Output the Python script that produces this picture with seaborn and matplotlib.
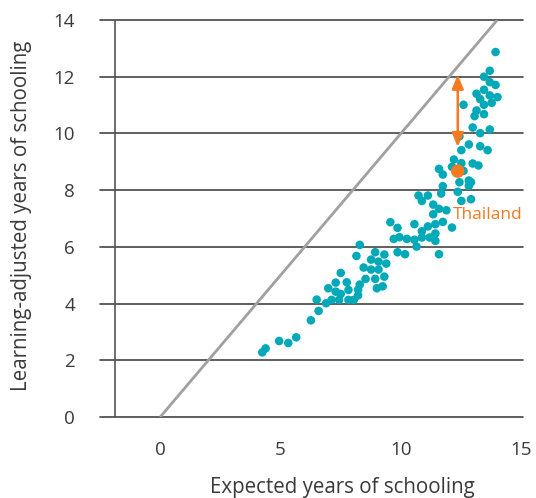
import numpy as np
import pandas as pd
import matplotlib
matplotlib.use("Agg")
import matplotlib.pyplot as plt
import seaborn as sns

# Datos (años esperados vs. años ajustados por aprendizaje)
expected = [4.24, 4.38, 4.94, 5.32, 5.65, 6.26, 6.58, 6.50, 6.89, 6.98,
            7.12, 7.29, 7.29, 7.43, 7.50, 7.50, 7.75, 7.82, 7.82, 8.04,
            8.15, 8.22, 8.22, 8.29, 8.29, 8.45, 8.53, 8.76, 8.76, 8.93,
            8.93, 9.00, 9.07, 9.07, 9.24, 9.31, 9.31, 9.39, 9.56, 9.70,
            9.86, 9.86, 9.94, 10.17, 10.25, 10.56, 10.56, 10.65, 10.73, 10.87,
            10.87, 10.87, 11.12, 11.12, 11.19, 11.34, 11.34, 11.43, 11.43, 11.43,
            11.58, 11.58, 11.58, 11.67, 11.74, 11.74, 11.74, 11.89, 12.12, 12.12,
            12.20, 12.36, 12.43, 12.43, 12.51, 12.51, 12.51, 12.60, 12.60, 12.82,
            12.82, 12.82, 12.91, 12.91, 12.98, 12.98, 13.06, 13.14, 13.14, 13.22,
            13.29, 13.29, 13.29, 13.45, 13.45, 13.45, 13.45, 13.60, 13.69, 13.69,
            13.69, 13.69, 13.77, 13.93, 13.93, 14.01]
adjusted = [2.28, 2.42, 2.68, 2.61, 2.81, 3.41, 3.74, 4.14, 4.01, 4.54,
            4.13, 4.74, 4.42, 4.13, 4.34, 5.08, 4.75, 4.48, 4.13, 4.13,
            5.68, 4.49, 4.29, 6.07, 4.67, 5.27, 4.87, 5.55, 5.20, 5.81,
            4.87, 4.54, 5.48, 5.20, 4.61, 5.73, 4.95, 5.41, 6.87, 6.28,
            6.67, 5.81, 6.34, 5.74, 6.28, 6.80, 6.25, 6.01, 7.81, 7.62,
            6.55, 6.33, 7.81, 6.72, 6.33, 7.49, 7.15, 6.80, 6.47, 6.21,
            8.75, 7.34, 5.74, 7.88, 8.55, 8.14, 6.88, 7.29, 8.82, 6.68,
            9.08, 7.94, 8.28, 9.90, 9.41, 8.95, 7.62, 8.68, 11.01, 9.61,
            8.34, 8.15, 8.28, 7.68, 8.94, 10.21, 10.61, 10.81, 11.40, 8.87,
            10.01, 9.55, 11.21, 12.00, 11.54, 11.01, 10.68, 9.41, 12.21, 11.81,
            11.34, 10.14, 11.08, 12.87, 11.71, 11.28]

thai_x = [12.36]
thai_y = [8.67]
thai_top = 12.07
thai_bottom = 9.52

yticks = [0, 2, 4, 6, 8, 10, 12, 14]
xticks = [0, 5, 10, 15]

teal = "#00A9B7"
naranja = "#F37A21"
texto = "#3a3a3a"

sns.set_style("white")
plt.rcParams['font.family'] = ['Open Sans', 'DejaVu Sans']

df = pd.DataFrame({"expected": expected, "adjusted": adjusted})

fig = plt.figure(figsize=(5.36, 4.98), dpi=100)
ax = fig.add_axes([100 / 536, 1 - 417 / 498, 423 / 536, 397 / 498])

# Líneas horizontales de la cuadrícula
for y in yticks:
    ax.axhline(y, color="#444444", lw=1.2, zorder=1, clip_on=False)
ax.axvline(-1.87, color="#555555", lw=1.2, zorder=1)

# Línea de 45 grados
ax.plot([0, 14], [0, 14], color="#a0a0a0", lw=2, zorder=2, solid_capstyle="butt")

sns.scatterplot(data=df, x="expected", y="adjusted", color=teal, s=38,
                edgecolor="none", ax=ax, zorder=3)
ax.scatter(thai_x, thai_y, color=naranja, s=95, edgecolor="none", zorder=4)

# Flecha de brecha
ax.annotate("", xy=(thai_x[0], thai_top), xytext=(thai_x[0], thai_bottom),
            arrowprops=dict(arrowstyle="<|-|>,head_length=0.6,head_width=0.25",
                            color=naranja, lw=1.8, mutation_scale=14,
                            shrinkA=0, shrinkB=0), zorder=5)
ax.text(12.16, 7.12, "Thailand", color=naranja, fontsize=12.5, va="center", ha="left")

ax.set_xlim(-2.5, 15.07)
ax.set_ylim(0, 14)
ax.set_xticks(xticks)
ax.set_yticks(yticks)
ax.tick_params(length=0, labelsize=13.5, colors=texto)
ax.tick_params(axis="y", pad=18)
ax.tick_params(axis="x", pad=17)
sns.despine(ax=ax, left=True, bottom=True)

ax.set_xlabel("Expected years of schooling", fontsize=14.8, color=texto)
ax.set_ylabel("Learning-adjusted years of schooling", fontsize=14.8, color=texto)
ax.xaxis.set_label_coords(0.572, -0.152)
ax.yaxis.set_label_coords(-0.16, 0.506)

fig.savefig("out.png", dpi=100)
